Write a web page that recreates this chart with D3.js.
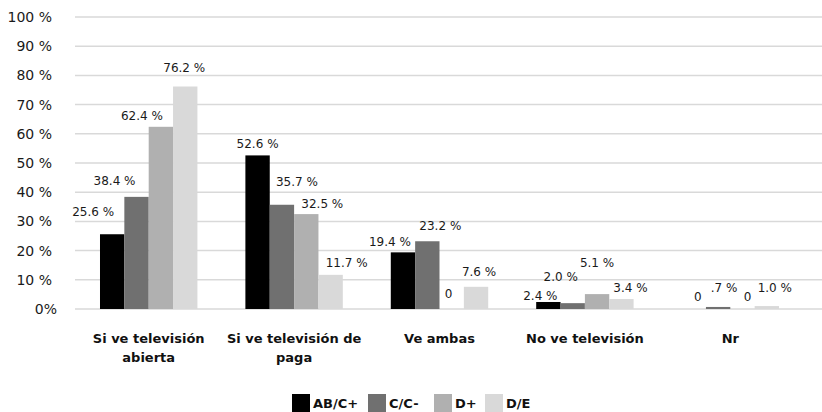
<!DOCTYPE html>
<html><head><meta charset="utf-8">
<script src="https://cdn.jsdelivr.net/npm/d3@7"></script>
<style>body{margin:0;background:#fff}svg{display:block}</style>
</head><body><svg id="c" width="822" height="412"></svg>
<script>
const categories = [["Si ve televisión","abierta"],["Si ve televisión de","paga"],["Ve ambas"],["No ve televisión"],["Nr"]];
const seriesNames = ["AB/C+","C/C-","D+","D/E"];
const abc = [25.6, 52.6, 19.4, 2.4, 0];
const cc = [38.4, 35.7, 23.2, 2.0, 0.7];
const dplus = [62.4, 32.5, 0, 5.1, 0];
const de = [76.2, 11.7, 7.6, 3.4, 1.0];
const labelText = [
  ["25.6 %","52.6 %","19.4 %","2.4 %","0"],
  ["38.4 %","35.7 %","23.2 %","2.0 %",".7 %"],
  ["62.4 %","32.5 %","0","5.1 %","0"],
  ["76.2 %","11.7 %","7.6 %","3.4 %","1.0 %"]];
const yTicks = [0,10,20,30,40,50,60,70,80,90,100];
const colors = ["#000000","#707070","#b0b0b0","#d9d9d9"];
// label nudges (layout only): [dx, dy] per series per category
const nudges = [
  [[-19,-22],[0,-12],[-13,-11],[-8,-6],[4,-12]],
  [[-22,-16],[15,-23],[13,-15],[-12,-26],[6,-19]],
  [[-19,-11],[16,-10],[-3,-15],[0,-31],[5,-12]],
  [[-1,-19],[16,-12],[3,-15],[9,-11],[8,-18]]];

const series = [abc, cc, dplus, de];
const svg = d3.select("#c");
const F = "'DejaVu Sans', sans-serif";
const x0 = d3.scaleBand().domain(d3.range(categories.length)).range([76, 803]).paddingInner(0.33).paddingOuter(0.165);
const x1 = d3.scaleBand().domain(d3.range(series.length)).range([0, x0.bandwidth()]);
const y = d3.scaleLinear().domain([0, 100]).range([309, 17]);

// gridlines
svg.append("g").selectAll("line").data(yTicks).join("line")
  .attr("x1", 75).attr("x2", 822)
  .attr("y1", d => y(d)).attr("y2", d => y(d))
  .attr("stroke", "#d9d9d9").attr("stroke-width", 1.5);

// y axis via d3 axis
const yAxis = d3.axisLeft(y).tickValues(yTicks).tickSize(0).tickPadding(0)
  .tickFormat(d => d === 0 ? "0%" : d + " %");
const ya = svg.append("g").attr("transform", "translate(57,0)").call(yAxis);
ya.select(".domain").remove();
ya.selectAll("text").attr("font-family", F).attr("font-size", 14).attr("fill", "#1a1a1a");
ya.selectAll(".tick").filter(d => d !== 0).select("text").attr("x", -5);

// bars
series.forEach((vals, si) => {
  svg.append("g").selectAll("rect").data(vals).join("rect")
    .attr("x", (d, ci) => x0(ci) + x1(si))
    .attr("width", x1.bandwidth())
    .attr("y", d => y(d))
    .attr("height", d => y(0) - y(d))
    .attr("fill", colors[si]);
});

// labels
series.forEach((vals, si) => {
  svg.append("g").selectAll("text").data(vals).join("text")
    .attr("x", (d, ci) => x0(ci) + x1(si) + x1.bandwidth() / 2 + nudges[si][ci][0])
    .attr("y", (d, ci) => y(d) + nudges[si][ci][1])
    .attr("dy", "0.35em")
    .attr("text-anchor", "middle")
    .attr("font-family", F).attr("font-size", 12).attr("fill", "#1a1a1a")
    .text((d, ci) => labelText[si][ci]);
});

// category labels
const cg = svg.append("g");
categories.forEach((lines, ci) => {
  lines.forEach((t, li) => {
    cg.append("text")
      .attr("x", x0(ci) + x0.bandwidth() / 2)
      .attr("y", 338 + li * 19).attr("dy", "0.35em")
      .attr("text-anchor", "middle")
      .attr("font-family", F).attr("font-weight", "bold").attr("font-size", 13).attr("fill", "#111")
      .text(t);
  });
});

// legend
const legX = [292, 368, 434, 485];
const lg = svg.append("g");
seriesNames.forEach((n, i) => {
  lg.append("rect").attr("x", legX[i]).attr("y", 394).attr("width", 18).attr("height", 18).attr("fill", colors[i]);
  lg.append("text").attr("x", legX[i] + 21).attr("y", 403).attr("dy", "0.35em")
    .attr("font-family", F).attr("font-weight", "bold").attr("font-size", 13).attr("fill", "#111").text(n);
});
</script></body></html>
